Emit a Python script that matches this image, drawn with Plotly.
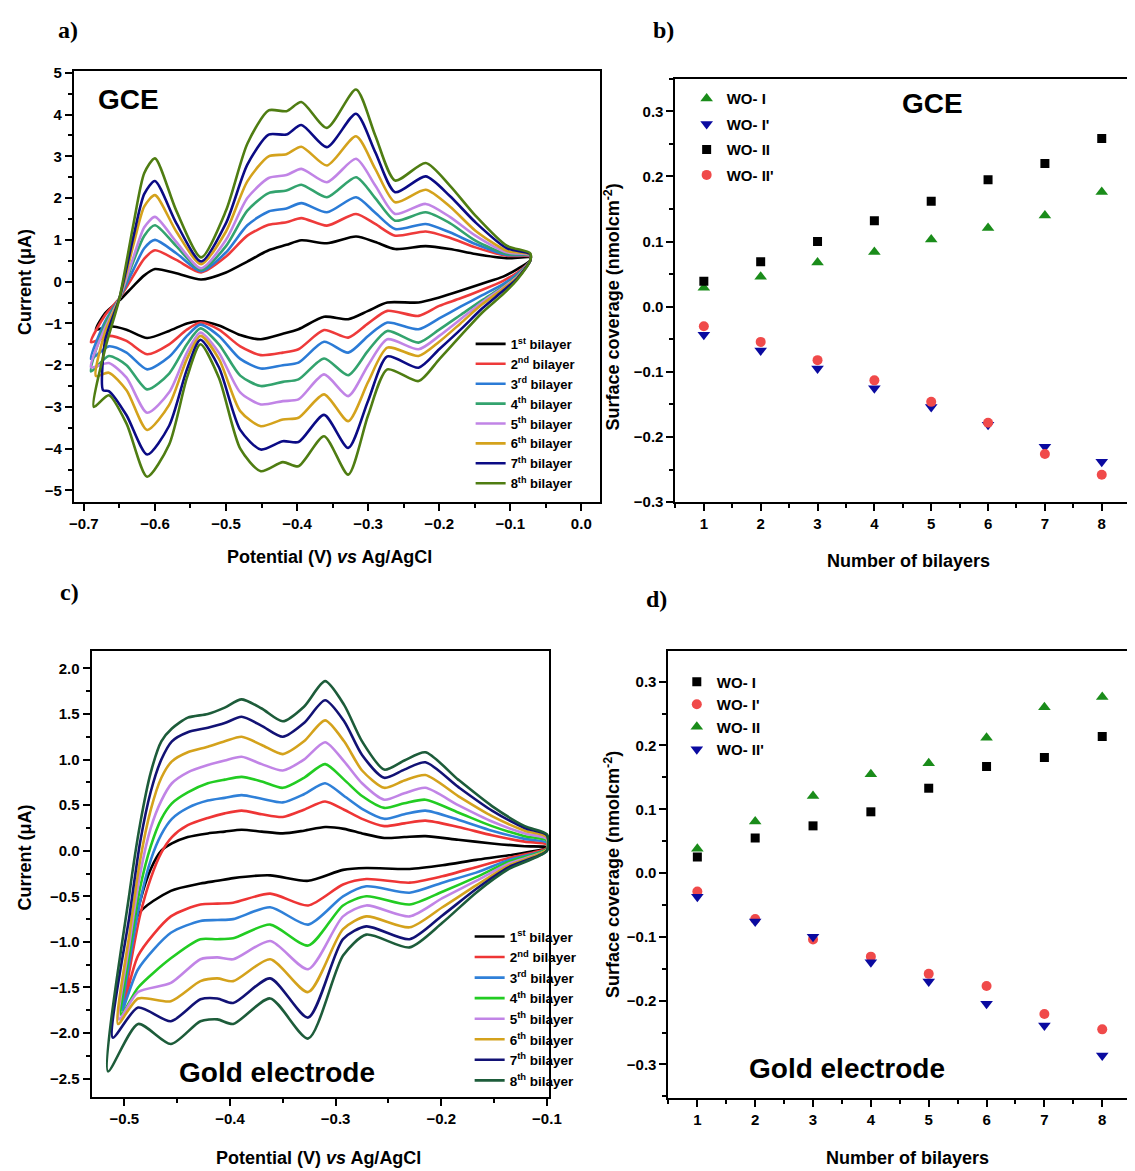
import plotly.graph_objects as go

W, H = 1135, 1171
# measured placement correction between requested and photographed coordinates
SX, OX = 0.985, 12.0
SY, OY = 0.986, 16.4

# ---------------- Panel a: GCE cyclic voltammograms ----------------
bilayer_labels = ["1<sup>st</sup> bilayer", "2<sup>nd</sup> bilayer", "3<sup>rd</sup> bilayer",
                  "4<sup>th</sup> bilayer", "5<sup>th</sup> bilayer", "6<sup>th</sup> bilayer",
                  "7<sup>th</sup> bilayer", "8<sup>th</sup> bilayer"]

gce_vertex_v = [-0.683, -0.690, -0.690, -0.690, -0.690, -0.683, -0.673, -0.686]
gce_vertex_i = [-1.15, -1.45, -1.85, -2.15, -2.05, -2.26, -2.60, -3.00]

gce_upper_v = [-0.67, -0.65, -0.63, -0.615, -0.60, -0.57, -0.535, -0.50, -0.47, -0.44, -0.415,
               -0.394, -0.358, -0.317, -0.29, -0.262, -0.219, -0.185, -0.149, -0.105, -0.072]
gce_upper_i = [
    [-0.75, -0.45, -0.10, 0.15, 0.30, 0.20, 0.05, 0.22, 0.48, 0.75, 0.88, 0.99, 0.92, 1.08, 0.95, 0.78, 0.85, 0.78, 0.66, 0.56, 0.58],
    [-0.80, -0.40, 0.15, 0.55, 0.75, 0.52, 0.22, 0.60, 1.10, 1.36, 1.42, 1.52, 1.34, 1.62, 1.38, 1.10, 1.20, 1.05, 0.82, 0.62, 0.60],
    [-0.95, -0.40, 0.30, 0.80, 1.00, 0.68, 0.25, 0.70, 1.35, 1.68, 1.75, 1.88, 1.66, 2.02, 1.65, 1.26, 1.38, 1.18, 0.90, 0.64, 0.62],
    [-1.00, -0.40, 0.50, 1.10, 1.35, 0.85, 0.28, 0.85, 1.70, 2.12, 2.18, 2.32, 2.02, 2.50, 2.00, 1.46, 1.66, 1.40, 0.98, 0.66, 0.63],
    [-1.10, -0.40, 0.60, 1.30, 1.55, 0.95, 0.32, 1.00, 2.00, 2.48, 2.55, 2.70, 2.38, 2.94, 2.30, 1.62, 1.86, 1.55, 1.10, 0.70, 0.64],
    [-1.20, -0.40, 0.90, 1.80, 2.07, 1.20, 0.42, 1.20, 2.40, 3.00, 3.05, 3.23, 2.78, 3.48, 2.70, 1.90, 2.20, 1.80, 1.22, 0.74, 0.65],
    [-1.40, -0.40, 1.10, 2.10, 2.41, 1.40, 0.48, 1.40, 2.80, 3.52, 3.52, 3.75, 3.22, 4.02, 3.10, 2.14, 2.52, 2.05, 1.42, 0.80, 0.66],
    [-1.60, -0.40, 1.40, 2.60, 2.95, 1.70, 0.58, 1.70, 3.30, 4.10, 4.08, 4.30, 3.68, 4.60, 3.50, 2.42, 2.84, 2.30, 1.58, 0.86, 0.68],
]

gce_lower_v = [-0.665, -0.64, -0.611, -0.58, -0.555, -0.536, -0.51, -0.48, -0.451, -0.42, -0.398,
               -0.362, -0.328, -0.30, -0.273, -0.229, -0.20, -0.17, -0.14, -0.11, -0.09, -0.072]
gce_lower_i = [
    [-1.07, -1.15, -1.35, -1.18, -1.00, -0.95, -1.05, -1.28, -1.38, -1.25, -1.14, -0.84, -0.90, -0.70, -0.50, -0.50, -0.38, -0.22, -0.05, 0.12, 0.30, 0.50],
    [-1.30, -1.42, -1.74, -1.50, -1.15, -0.98, -1.15, -1.55, -1.76, -1.70, -1.62, -1.16, -1.34, -1.00, -0.70, -0.82, -0.58, -0.40, -0.20, 0.02, 0.22, 0.50],
    [-1.55, -1.70, -2.10, -1.80, -1.30, -1.03, -1.30, -1.85, -2.08, -2.00, -1.94, -1.44, -1.70, -1.30, -0.98, -1.14, -0.88, -0.60, -0.33, -0.06, 0.18, 0.50],
    [-1.78, -2.00, -2.58, -2.20, -1.50, -1.12, -1.50, -2.25, -2.50, -2.40, -2.34, -1.84, -2.24, -1.65, -1.18, -1.46, -1.15, -0.80, -0.45, -0.12, 0.15, 0.50],
    [-1.95, -2.30, -3.14, -2.65, -1.70, -1.22, -1.70, -2.65, -2.94, -2.86, -2.82, -2.22, -2.74, -2.00, -1.38, -1.62, -1.30, -0.90, -0.50, -0.14, 0.12, 0.50],
    [-2.18, -2.60, -3.55, -2.95, -1.85, -1.30, -1.85, -3.10, -3.46, -3.30, -3.26, -2.70, -3.34, -2.40, -1.58, -1.78, -1.44, -1.00, -0.55, -0.17, 0.10, 0.50],
    [-2.62, -3.20, -4.14, -3.45, -2.10, -1.39, -2.05, -3.55, -4.02, -3.82, -3.84, -3.19, -3.98, -2.85, -1.79, -2.06, -1.62, -1.15, -0.65, -0.22, 0.08, 0.50],
    [-2.72, -3.40, -4.67, -3.90, -2.30, -1.50, -2.30, -4.00, -4.54, -4.32, -4.42, -3.70, -4.62, -3.20, -2.10, -2.38, -1.86, -1.30, -0.75, -0.30, 0.05, 0.50],
]
gce_colors = ["#000000", "#ee3a3a", "#2b7bd6", "#33a36e", "#c184e6", "#d4a21c", "#0b0b85", "#4f7d12"]

# ---------------- Panel c: Gold electrode cyclic voltammograms ----------------
gold_vertex_v = [-0.499, -0.501, -0.502, -0.503, -0.505, -0.506, -0.511, -0.5155]
gold_vertex_i = [-1.60, -1.72, -1.75, -1.80, -1.85, -1.90, -2.05, -2.42]

gold_upper_v = [-0.495, -0.485, -0.475, -0.465, -0.455, -0.44, -0.421, -0.405, -0.389, -0.37, -0.35,
                -0.33, -0.31, -0.292, -0.275, -0.254, -0.235, -0.215, -0.184, -0.152, -0.121, -0.10]
gold_upper_i = [
    [-1.10, -0.55, -0.20, 0.00, 0.08, 0.15, 0.19, 0.21, 0.23, 0.21, 0.19, 0.22, 0.26, 0.24, 0.19, 0.14, 0.15, 0.16, 0.12, 0.08, 0.05, 0.04],
    [-1.30, -0.70, -0.30, -0.02, 0.15, 0.28, 0.36, 0.41, 0.44, 0.40, 0.37, 0.45, 0.54, 0.45, 0.35, 0.27, 0.30, 0.33, 0.26, 0.17, 0.10, 0.07],
    [-1.20, -0.55, -0.10, 0.18, 0.35, 0.47, 0.55, 0.58, 0.61, 0.57, 0.53, 0.62, 0.74, 0.60, 0.46, 0.35, 0.40, 0.44, 0.34, 0.22, 0.13, 0.09],
    [-1.10, -0.40, 0.05, 0.35, 0.52, 0.64, 0.74, 0.78, 0.81, 0.76, 0.69, 0.80, 0.95, 0.78, 0.60, 0.47, 0.52, 0.56, 0.42, 0.27, 0.16, 0.11],
    [-1.00, -0.25, 0.25, 0.55, 0.74, 0.86, 0.94, 0.99, 1.03, 0.95, 0.88, 1.00, 1.19, 0.98, 0.74, 0.56, 0.63, 0.69, 0.50, 0.32, 0.19, 0.13],
    [-0.90, -0.10, 0.45, 0.80, 0.98, 1.08, 1.14, 1.20, 1.25, 1.16, 1.06, 1.20, 1.43, 1.20, 0.88, 0.69, 0.77, 0.83, 0.60, 0.38, 0.22, 0.15],
    [-0.70, 0.10, 0.65, 1.00, 1.20, 1.30, 1.35, 1.40, 1.47, 1.37, 1.25, 1.40, 1.65, 1.42, 1.05, 0.80, 0.89, 0.97, 0.70, 0.44, 0.25, 0.17],
    [-0.45, 0.30, 0.86, 1.20, 1.34, 1.46, 1.50, 1.57, 1.66, 1.56, 1.42, 1.58, 1.86, 1.60, 1.20, 0.89, 0.99, 1.08, 0.78, 0.49, 0.27, 0.18],
]

gold_lower_v = [-0.487, -0.456, -0.428, -0.412, -0.397, -0.362, -0.326, -0.293, -0.271, -0.230,
                -0.199, -0.167, -0.136, -0.10]
gold_lower_i = [
    [-0.70, -0.44, -0.36, -0.33, -0.30, -0.27, -0.33, -0.21, -0.19, -0.20, -0.16, -0.10, -0.05, 0.03],
    [-1.15, -0.72, -0.59, -0.58, -0.57, -0.47, -0.60, -0.37, -0.31, -0.35, -0.28, -0.18, -0.08, 0.03],
    [-1.30, -0.90, -0.77, -0.76, -0.75, -0.62, -0.81, -0.50, -0.39, -0.46, -0.35, -0.24, -0.10, 0.02],
    [-1.50, -1.18, -0.97, -0.97, -0.96, -0.81, -1.04, -0.60, -0.50, -0.59, -0.45, -0.29, -0.12, 0.02],
    [-1.55, -1.45, -1.19, -1.17, -1.19, -0.99, -1.30, -0.72, -0.60, -0.72, -0.52, -0.33, -0.14, 0.01],
    [-1.62, -1.65, -1.43, -1.40, -1.43, -1.19, -1.55, -0.86, -0.72, -0.84, -0.62, -0.38, -0.16, 0.01],
    [-1.72, -1.87, -1.63, -1.62, -1.67, -1.40, -1.83, -0.97, -0.83, -0.97, -0.71, -0.42, -0.18, 0.00],
    [-1.90, -2.12, -1.87, -1.85, -1.90, -1.62, -2.06, -1.15, -0.92, -1.06, -0.79, -0.46, -0.20, 0.00],
]
gold_colors = ["#000000", "#ee3535", "#2f80d8", "#22cc22", "#c184e6", "#d4a21c", "#121275", "#1d5c3a"]

# ---------------- Panels b and d: surface coverage ----------------
bilayers = [1, 2, 3, 4, 5, 6, 7, 8]
gce_wo_1 = [0.029, 0.046, 0.068, 0.084, 0.103, 0.121, 0.140, 0.176]
gce_wo_1p = [-0.043, -0.067, -0.095, -0.125, -0.154, -0.181, -0.215, -0.238]
gce_wo_2 = [0.039, 0.069, 0.100, 0.132, 0.162, 0.195, 0.220, 0.258]
gce_wo_2p = [-0.030, -0.054, -0.082, -0.113, -0.146, -0.178, -0.226, -0.258]

gold_wo_1 = [0.025, 0.055, 0.074, 0.096, 0.133, 0.167, 0.181, 0.214]
gold_wo_1p = [-0.029, -0.072, -0.104, -0.131, -0.158, -0.177, -0.221, -0.245]
gold_wo_2 = [0.038, 0.081, 0.121, 0.155, 0.172, 0.212, 0.260, 0.276]
gold_wo_2p = [-0.037, -0.076, -0.100, -0.140, -0.170, -0.205, -0.239, -0.286]

GREEN, BLUE, RED = "#1a8c1a", "#0a0aa0", "#f04a4a"

# ---------------- Figure ----------------
def fx(p):
    """paper x from a target pixel x"""
    return min(1.0, max(0.0, (p - OX) / SX / W))

def fy(p):
    """paper y from a target pixel y"""
    return min(1.0, max(0.0, 1 - (p - OY) / SY / H))

def gx(f):
    """paper x from a figure pixel x"""
    return f / W

def gy(f):
    return 1 - f / H

fig = go.Figure()

for k in range(8):
    xs = [gce_vertex_v[k]] + gce_upper_v + gce_lower_v[::-1] + [gce_vertex_v[k]]
    ys = [gce_vertex_i[k]] + gce_upper_i[k] + gce_lower_i[k][::-1] + [gce_vertex_i[k]]
    fig.add_trace(go.Scatter(x=xs, y=ys, mode="lines", name=bilayer_labels[k],
                             line=dict(color=gce_colors[k], width=2.6, shape="spline", smoothing=0.7),
                             xaxis="x", yaxis="y", legend="legend"))

for k in range(8):
    xs = [gold_vertex_v[k]] + gold_upper_v + gold_lower_v[::-1] + [gold_vertex_v[k]]
    ys = [gold_vertex_i[k]] + gold_upper_i[k] + gold_lower_i[k][::-1] + [gold_vertex_i[k]]
    fig.add_trace(go.Scatter(x=xs, y=ys, mode="lines", name=bilayer_labels[k],
                             line=dict(color=gold_colors[k], width=2.6, shape="spline", smoothing=0.7),
                             xaxis="x3", yaxis="y3", legend="legend3"))

b_series = [("WO- I", gce_wo_1, "triangle-up", GREEN, 11),
            ("WO- I'", gce_wo_1p, "triangle-down", BLUE, 11),
            ("WO- II", gce_wo_2, "square", "#000000", 9),
            ("WO- II'", gce_wo_2p, "circle", RED, 10)]
for i, (nm, vals, sym, col, sz) in enumerate(b_series):
    fig.add_trace(go.Scatter(x=bilayers, y=vals, mode="markers", name=nm,
                             marker=dict(symbol=sym, color=col, size=sz, line=dict(width=0)),
                             xaxis="x2", yaxis="y2", legend="legend2", legendgroup="b%d" % i))

d_series = [("WO- I", gold_wo_1, "square", "#000000", 9),
            ("WO- I'", gold_wo_1p, "circle", RED, 10),
            ("WO- II", gold_wo_2, "triangle-up", GREEN, 11),
            ("WO- II'", gold_wo_2p, "triangle-down", BLUE, 11)]
for i, (nm, vals, sym, col, sz) in enumerate(d_series):
    fig.add_trace(go.Scatter(x=bilayers, y=vals, mode="markers", name=nm,
                             marker=dict(symbol=sym, color=col, size=sz, line=dict(width=0)),
                             xaxis="x4", yaxis="y4", legend="legend4", legendgroup="d%d" % i))

tickfont = dict(family="Liberation Sans", size=15, color="black", weight="bold")

def axis(domain, rng, dtick, minor_dtick, fmt, anchor, tick0=None):
    d = dict(domain=domain, range=rng, dtick=dtick, tickformat=fmt, anchor=anchor,
             showline=True, linecolor="black", linewidth=2, mirror=True,
             ticks="outside", ticklen=7, tickwidth=2, tickcolor="black",
             showgrid=False, zeroline=False, tickfont=tickfont,
             minor=dict(dtick=minor_dtick, ticks="outside", ticklen=4, tickwidth=1.5, tickcolor="black", showgrid=False))
    if tick0 is not None:
        d["tick0"] = tick0
        d["minor"]["tick0"] = tick0
    return d

legend_font = dict(family="Liberation Sans", color="black", weight="bold")

fig.update_layout(
    width=W, height=H, margin=dict(l=0, r=0, t=0, b=0),
    paper_bgcolor="white", plot_bgcolor="white", showlegend=True,
    xaxis=axis([fx(73), fx(600)], [-0.714, 0.027], 0.1, 0.05, ".1f", "y", tick0=0),
    yaxis=axis([fy(503), fy(72)], [-5.28, 5.05], 1, 0.5, "d", "x", tick0=0),
    xaxis2=axis([fx(675), fx(1129)], [0.5, 8.48], 1, 0.5, "d", "y2", tick0=0),
    yaxis2=axis([fy(503), fy(80)], [-0.30, 0.35], 0.1, 0.05, ".1f", "x2", tick0=0),
    xaxis3=axis([fx(90.7), fx(548.5)], [-0.531, -0.098], 0.1, 0.05, ".1f", "y3", tick0=0),
    yaxis3=axis([fy(1097), fy(651.7)], [-2.70, 2.19], 0.5, 0.25, ".1f", "x3", tick0=0),
    xaxis4=axis([fx(668), fx(1131)], [0.5, 8.48], 1, 0.5, "d", "y4", tick0=0),
    yaxis4=axis([fy(1097.7), fy(651.7)], [-0.352, 0.348], 0.1, 0.05, ".1f", "x4", tick0=0),
    legend=dict(x=gx(465), y=gy(318), xanchor="left", yanchor="top", bgcolor="rgba(0,0,0,0)",
                font=dict(size=13, **legend_font), itemwidth=30, tracegroupgap=0),
    legend3=dict(x=gx(464), y=gy(918), xanchor="left", yanchor="top", bgcolor="rgba(0,0,0,0)",
                 font=dict(size=13.5, **legend_font), itemwidth=30, tracegroupgap=0),
    legend2=dict(x=gx(684.5), y=gy(68), xanchor="left", yanchor="top", bgcolor="rgba(0,0,0,0)",
                 font=dict(size=15, **legend_font), itemwidth=30, tracegroupgap=3),
    legend4=dict(x=gx(674.5), y=gy(659), xanchor="left", yanchor="top", bgcolor="rgba(0,0,0,0)",
                 font=dict(size=15, **legend_font), itemwidth=30, tracegroupgap=0),
)

def ann(text, x, y, size, angle=0, family="Liberation Sans", xanchor="center"):
    fig.add_annotation(text=text, x=fx(x), y=fy(y), xref="paper", yref="paper",
                       showarrow=False, textangle=angle, xanchor=xanchor, yanchor="middle",
                       font=dict(family=family, size=size, color="black"))

# axis titles
ann("<b>Current (μA)</b>", 24, 283, 18, -90)
ann("<b>Potential (V) <i>vs</i> Ag/AgCl</b>", 329, 558, 18)
ann("<b>Surface coverage (nmolcm<sup>-2</sup>)</b>", 612, 308, 18, -90)
ann("<b>Number of bilayers</b>", 908, 562, 18)
ann("<b>Current (μA)</b>", 24, 858, 18, -90)
ann("<b>Potential (V) <i>vs</i> Ag/AgCl</b>", 318, 1158, 18)
ann("<b>Surface coverage (nmolcm<sup>-2</sup>)</b>", 612, 875, 18, -90)
ann("<b>Number of bilayers</b>", 907, 1158, 18)

# in-panel labels
ann("<b>GCE</b>", 95, 101, 28, xanchor="left")
ann("<b>GCE</b>", 932, 105, 28)
ann("<b>Gold electrode</b>", 276, 1073, 28)
ann("<b>Gold electrode</b>", 847, 1069, 28)

# panel letters
ann("<b>a)</b>", 67, 31, 24, family="Liberation Serif")
ann("<b>b)</b>", 663, 31, 24, family="Liberation Serif")
ann("<b>c)</b>", 69, 593, 24, family="Liberation Serif")
ann("<b>d)</b>", 656, 600, 24, family="Liberation Serif")

fig.write_html("out.html")
